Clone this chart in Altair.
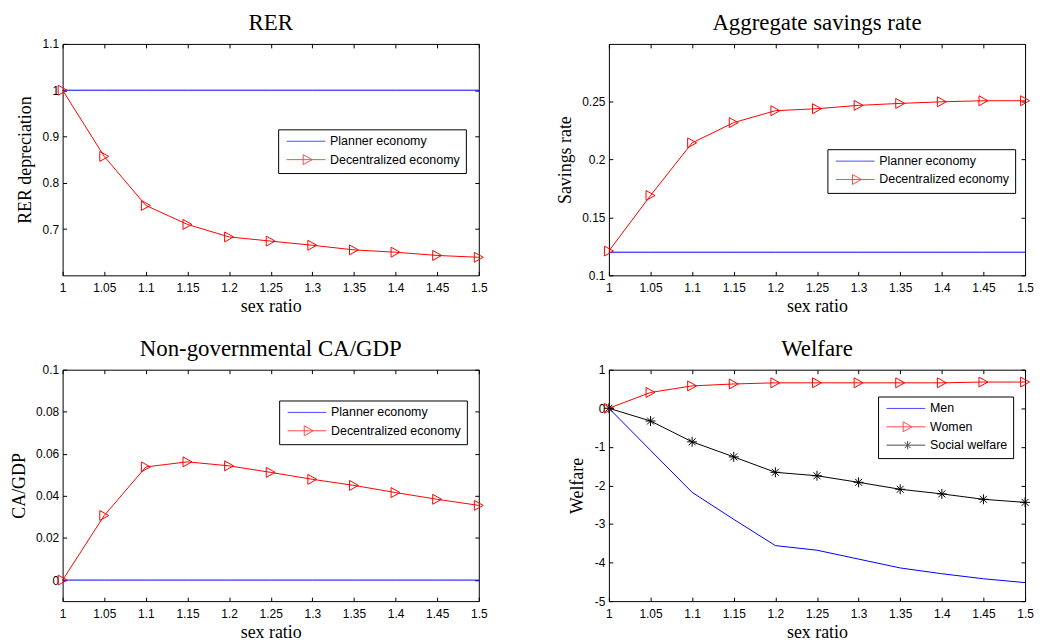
import altair as alt
import pandas as pd

# ---------------- data ----------------
sex_ratio = [1.0, 1.05, 1.1, 1.15, 1.2, 1.25, 1.3, 1.35, 1.4, 1.45, 1.5]

rer_planner = [1.0, 1.0, 1.0, 1.0, 1.0, 1.0, 1.0, 1.0, 1.0, 1.0, 1.0]
rer_decentral = [1.0, 0.857, 0.751, 0.710, 0.683, 0.674, 0.665, 0.655, 0.650, 0.643, 0.639]

sav_planner = [0.12, 0.12, 0.12, 0.12, 0.12, 0.12, 0.12, 0.12, 0.12, 0.12, 0.12]
sav_decentral = [0.121, 0.169, 0.2145, 0.232, 0.2423, 0.244, 0.2469, 0.2486, 0.250, 0.2509, 0.2509]

ca_planner = [0.0, 0.0, 0.0, 0.0, 0.0, 0.0, 0.0, 0.0, 0.0, 0.0, 0.0]
ca_decentral = [0.0, 0.0307, 0.0538, 0.0562, 0.0543, 0.0512, 0.0479, 0.0450, 0.0416, 0.0384, 0.0355]

welfare_men = [0.0, -1.09, -2.18, -2.88, -3.56, -3.68, -3.91, -4.14, -4.29, -4.42, -4.52]
welfare_women = [0.0, 0.41, 0.58, 0.63, 0.66, 0.66, 0.66, 0.66, 0.66, 0.68, 0.68]
welfare_social = [0.0, -0.33, -0.87, -1.26, -1.66, -1.75, -1.92, -2.10, -2.22, -2.36, -2.44]

x_ticks = [1, 1.05, 1.1, 1.15, 1.2, 1.25, 1.3, 1.35, 1.4, 1.45, 1.5]
rer_ticks = [0.7, 0.8, 0.9, 1, 1.1]
sav_ticks = [0.1, 0.15, 0.2, 0.25]
ca_ticks = [0, 0.02, 0.04, 0.06, 0.08, 0.1]
wel_ticks = [-5, -4, -3, -2, -1, 0, 1]

econ_names = ["Planner economy", "Decentralized economy"]
welfare_names = ["Men", "Women", "Social welfare"]

# ---------------- styles ----------------
BLUE, RED, BLACK = "#0000ff", "#ff0000", "#000000"
SANS, SERIF = "Liberation Sans", "Liberation Serif"

LINE_LEG = "M-0.7,0L7.1,0"
TRI_LEG = "M-0.7,0L7.1,0M2.65,-1L4.45,0L2.65,1Z"
STAR_LEG = "M-0.7,0L7.1,0M3.55,-0.85L3.55,0.85M2.95,-0.6L4.15,0.6M2.95,0.6L4.15,-0.6"
TRI_MARK = "M-0.9,-1L0.9,0L-0.9,1Z"
STAR_MARK = "M0,-1L0,1M-1,0L1,0M-0.7,-0.7L0.7,0.7M-0.7,0.7L0.7,-0.7"

W, H = 419, 233


def axis(orient, values, title=None, labels=True):
    kw = dict(orient=orient, values=values, domain=False, ticks=True, tickSize=4,
              offset=-4, tickColor="black", tickWidth=1, grid=False, labels=labels,
              title=title, minExtent=0)
    if labels:
        kw.update(labelExpr="'' + datum.value", labelFont=SANS, labelFontSize=12,
                  labelColor="black", labelFlush=False, labelOverlap=False,
                  labelPadding=7.5 if orient == "bottom" else 4)
    if title is not None:
        kw.update(titleFont=SERIF, titleFontSize=18, titleFontWeight="normal",
                  titleColor="black", titlePadding=4 if orient == "bottom" else 7.5)
    return alt.Axis(**kw)


def panel(title, y_title, names, series, colors, leg_shapes, markers,
          y_domain, y_ticks, lx, ly, title_dy):
    rows = []
    for name, vals in zip(names, series):
        for xv, yv in zip(sex_ratio, vals):
            rows.append({"x": xv, "y": yv, "series": name})
    df = pd.DataFrame(rows)
    xs = alt.Scale(domain=[1, 1.5], nice=False, zero=False)
    ys = alt.Scale(domain=y_domain, nice=False, zero=False)
    base = alt.Chart(df)

    layers = []
    for i, (name, col) in enumerate(zip(names, colors)):
        if i == 0:
            xe = alt.X("x:Q", scale=xs, axis=axis("bottom", x_ticks, "sex ratio"))
            ye = alt.Y("y:Q", scale=ys, axis=axis("left", y_ticks, y_title))
        else:
            xe = alt.X("x:Q", scale=xs, axis=None)
            ye = alt.Y("y:Q", scale=ys, axis=None)
        layers.append(
            base.transform_filter(alt.datum.series == name)
            .mark_line(strokeWidth=1, color=col)
            .encode(x=xe, y=ye)
        )
    for name, path, col in markers:
        layers.append(
            base.transform_filter(alt.datum.series == name)
            .mark_point(shape=path, filled=False, size=100, strokeWidth=1, color=col, opacity=1)
            .encode(x=alt.X("x:Q", scale=xs, axis=None),
                    y=alt.Y("y:Q", scale=ys, axis=None))
        )
    leg = alt.Legend(title=None, orient="none", legendX=lx, legendY=ly, direction="vertical",
                     strokeColor="black", fillColor="white", padding=5.75,
                     labelFont=SANS, labelFontSize=12.5, labelColor="black",
                     labelOffset=34, rowPadding=4.5, symbolSize=100,
                     symbolStrokeWidth=1, labelLimit=300)
    legend_layer = base.transform_filter("false").mark_point(
        filled=False, size=100, strokeWidth=1
    ).encode(
        x=alt.X("x:Q", scale=xs, axis=axis("top", x_ticks, labels=False)),
        y=alt.Y("y:Q", scale=ys, axis=axis("right", y_ticks, labels=False)),
        color=alt.Color("series:N", scale=alt.Scale(domain=names, range=colors), legend=leg),
        shape=alt.Shape("series:N", scale=alt.Scale(domain=names, range=leg_shapes), legend=leg),
    )
    layers.append(legend_layer)
    return alt.layer(*layers).properties(
        width=W, height=H,
        title=alt.TitleParams(title, font=SERIF, fontSize=23, fontWeight="normal",
                              color="black", anchor="middle", frame="group",
                              baseline="top", offset=9, dy=title_dy),
    )


p1 = panel("RER", "RER depreciation", econ_names, [rer_planner, rer_decentral],
           [BLUE, RED], [LINE_LEG, TRI_LEG], [("Decentralized economy", TRI_MARK, RED)],
           [0.6, 1.1], rer_ticks, 217, 86, 6)
p2 = panel("Aggregate savings rate", "Savings rate", econ_names, [sav_planner, sav_decentral],
           [BLUE, RED], [LINE_LEG, TRI_LEG], [("Decentralized economy", TRI_MARK, RED)],
           [0.1, 0.3], sav_ticks, 220, 106, 0)
p3 = panel("Non-governmental CA/GDP", "CA/GDP", econ_names, [ca_planner, ca_decentral],
           [BLUE, RED], [LINE_LEG, TRI_LEG], [("Decentralized economy", TRI_MARK, RED)],
           [-0.01, 0.1], ca_ticks, 218, 31, 6)
p4 = panel("Welfare", "Welfare", welfare_names, [welfare_men, welfare_women, welfare_social],
           [BLUE, RED, BLACK], [LINE_LEG, TRI_LEG, STAR_LEG],
           [("Women", TRI_MARK, RED), ("Social welfare", STAR_MARK, BLACK)],
           [-5, 1], wel_ticks, 271, 27, 6)

chart = alt.concat(p1, p2, p3, p4, columns=2, spacing={"row": 95, "column": 131},
                   bounds="flush").resolve_scale(
    color="independent", shape="independent"
).resolve_legend(
    color="independent", shape="independent"
).configure_view(
    stroke="black", strokeWidth=1
).properties(
    background="white",
    padding={"left": 1, "top": 1, "right": 0, "bottom": 0},
)

chart.save("out.html", embed_options={"renderer": "svg", "actions": False})
